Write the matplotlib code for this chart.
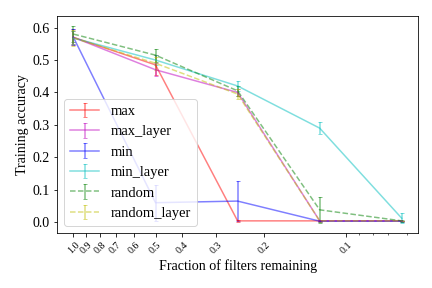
import numpy as np
import matplotlib
matplotlib.use('Agg')
import matplotlib.pyplot as plt
from matplotlib.ticker import NullFormatter

plt.rcParams['font.family'] = ['Liberation Serif', 'DejaVu Serif']
plt.rcParams['mathtext.fontset'] = 'stix'

# Доля оставшихся фильтров
fractions = [1.0, 0.5, 0.25, 0.125, 0.0625]

labels = ['max', 'max_layer', 'min', 'min_layer', 'random', 'random_layer']
colors = ['r', 'm', 'b', 'c', 'g', 'y']
styles = ['-', '-', '-', '-', '--', '--']

acc_max = [0.570, 0.485, 0.004, 0.004, 0.004]
err_max = [0.020, 0.030, 0.002, 0.001, 0.001]
acc_max_layer = [0.570, 0.470, 0.400, 0.004, 0.004]
err_max_layer = [0.025, 0.020, 0.010, 0.002, 0.001]
acc_min = [0.570, 0.060, 0.065, 0.003, 0.003]
err_min = [0.025, 0.055, 0.062, 0.002, 0.001]
acc_min_layer = [0.568, 0.500, 0.420, 0.290, 0.012]
err_min_layer = [0.020, 0.015, 0.015, 0.018, 0.015]
acc_random = [0.580, 0.515, 0.405, 0.038, 0.004]
err_random = [0.025, 0.020, 0.015, 0.040, 0.002]
acc_random_layer = [0.568, 0.490, 0.395, 0.004, 0.004]
err_random_layer = [0.025, 0.020, 0.015, 0.002, 0.001]

accs = [acc_max, acc_max_layer, acc_min, acc_min_layer, acc_random, acc_random_layer]
errs = [err_max, err_max_layer, err_min, err_min_layer, err_random, err_random_layer]

xticks = [1.0, 0.9, 0.8, 0.7, 0.6, 0.5, 0.4, 0.3, 0.2, 0.1]

fig, ax = plt.subplots(figsize=(6, 4), dpi=72)
for acc, err, lab, c, ls in zip(accs, errs, labels, colors, styles):
    ax.errorbar(fractions, acc, yerr=err, fmt=ls, color=c, alpha=0.5,
                capsize=2, label=lab, linewidth=1.5)

ax.set_xscale('log')
ax.set_xticks(xticks)
ax.set_xticklabels([str(t) for t in xticks], rotation=45, fontsize=10)
ax.xaxis.set_minor_formatter(NullFormatter())
ax.invert_xaxis()
ax.tick_params(axis='y', labelsize=14)
ax.set_xlabel('Fraction of filters remaining', fontsize=14)
ax.set_ylabel('Training accuracy', fontsize=14)
ax.legend(loc='lower left', fontsize=14.5)
fig.subplots_adjust(left=0.132, right=0.968, top=0.944, bottom=0.191)
fig.savefig('out.png')
